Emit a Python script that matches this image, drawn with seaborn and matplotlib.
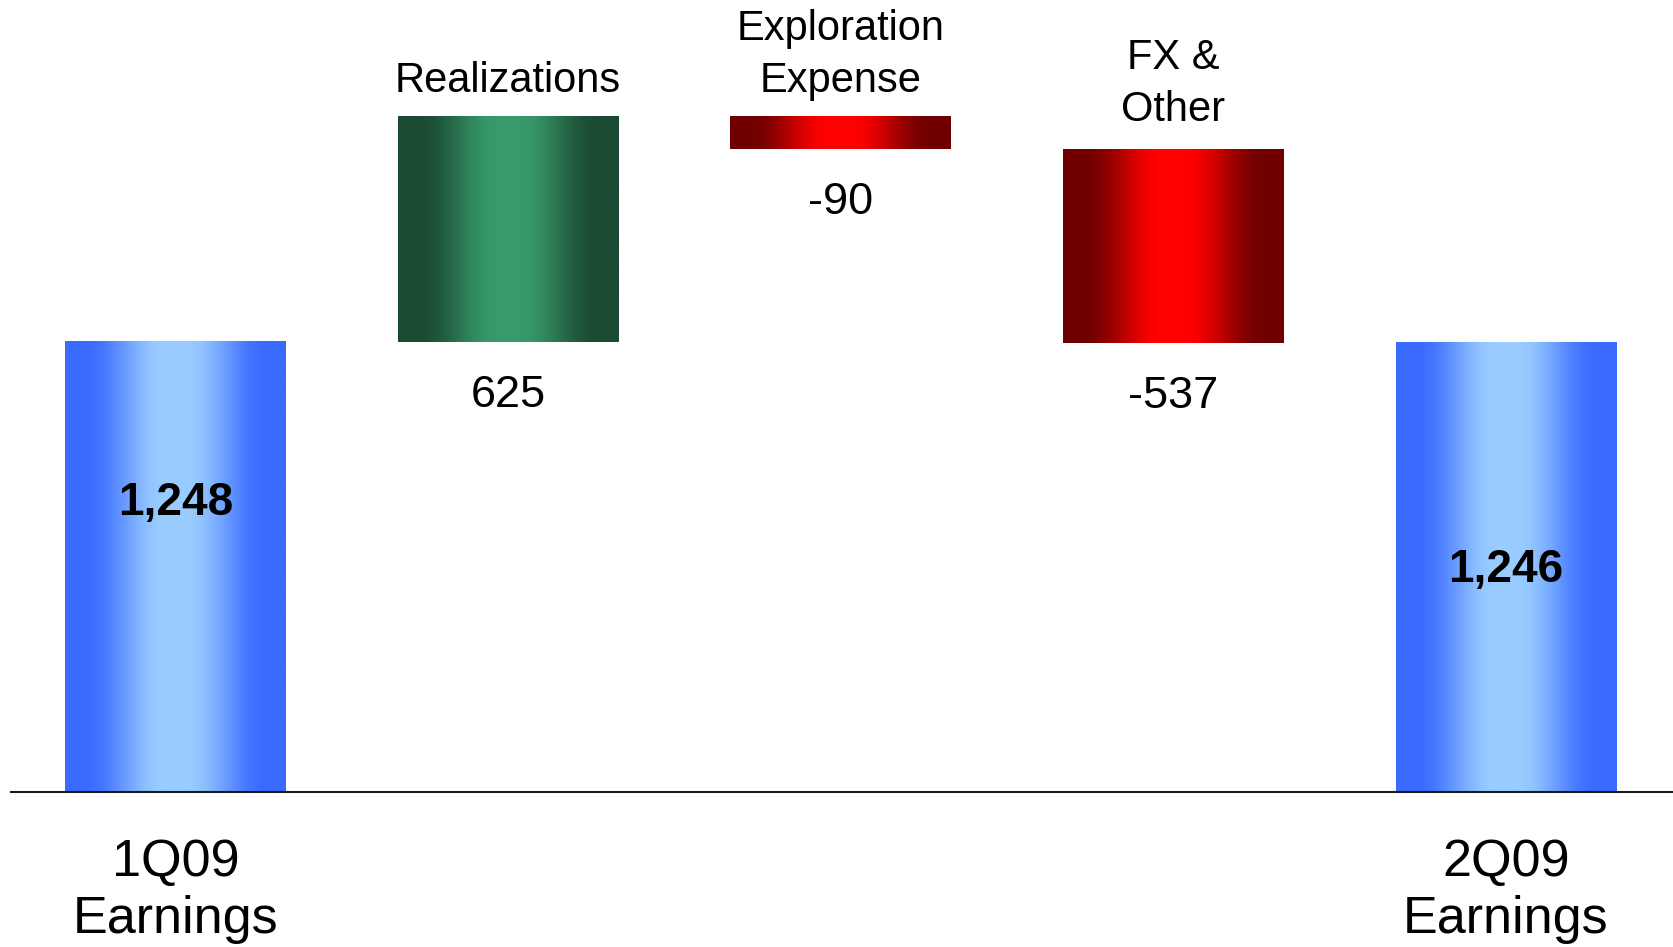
import numpy as np
import pandas as pd
import matplotlib
matplotlib.use("Agg")
import matplotlib.pyplot as plt
import seaborn as sns
from matplotlib.colors import to_rgb

# ---- data ----
categories = ["1Q09\nEarnings", "Realizations", "Exploration\nExpense", "FX &\nOther", "2Q09\nEarnings"]
values = [1248, 625, -90, -537, 1246]
kinds = ["total", "delta", "delta", "delta", "total"]
value_labels = ["1,248", "625", "-90", "-537", "1,246"]
tick_labels = ["1Q09\nEarnings", "", "", "", "2Q09\nEarnings"]
top_labels = ["", "Realizations", "Exploration\nExpense", "FX &\nOther", ""]

# ---- waterfall geometry from data ----
bottoms, heights = [], []
running = 0
for v, k in zip(values, kinds):
    if k == "total":
        bottoms.append(0)
        heights.append(v)
        running = v
    else:
        lo = min(running, running + v)
        bottoms.append(lo)
        heights.append(abs(v))
        running += v
tops = [b + h for b, h in zip(bottoms, heights)]

# gradient colours (edge, centre)
grad = {
    "total": ("#3A6BFF", "#99CCFF"),
    "up": ("#1B4A33", "#379A6A"),
    "down": ("#700000", "#FF0000"),
}
def kind_of(v, k):
    if k == "total":
        return "total"
    return "up" if v > 0 else "down"
bar_kinds = [kind_of(v, k) for v, k in zip(values, kinds)]

sns.set_theme(style="white")
plt.rcParams["font.family"] = ["Liberation Sans", "DejaVu Sans"]

W, H = 1673, 947
fig = plt.figure(figsize=(W / 100, H / 100), dpi=100)
ax = fig.add_axes([11 / W, (H - 792) / H, (W - 11) / W, 792 / H])

df = pd.DataFrame({"cat": categories, "top": tops})
palette = {c: grad[k][0] for c, k in zip(categories, bar_kinds)}
sns.barplot(data=df, x="cat", y="top", hue="cat", palette=palette, dodge=False,
            width=0.664, legend=False, ax=ax, saturation=1)

patches = sorted(ax.patches, key=lambda p: p.get_x())

def gradient_image(edge, center, n=400):
    t = np.linspace(0, 1, n)
    d = np.abs(t - 0.5) * 2
    f = np.clip((d - 0.1) / 0.72, 0, 1)
    f = f * f * (3 - 2 * f)
    e = np.array(to_rgb(edge)); c = np.array(to_rgb(center))
    img = c[None, :] * (1 - f[:, None]) + e[None, :] * f[:, None]
    return img[None, :, :]

for p, b, h, k in zip(patches, bottoms, heights, bar_kinds):
    p.set_y(b)
    p.set_height(h)
    p.set_linewidth(0)
    x0 = p.get_x(); x1 = x0 + p.get_width()
    ax.imshow(gradient_image(*grad[k]), extent=(x0, x1, b, b + h), aspect="auto",
              interpolation="bilinear", zorder=3)

# labels
top_offsets = [0, 11, 11, 14, 0]
total_fracs = [0.642, 0, 0, 0, 0.493]
for i, (p, b, t, k) in enumerate(zip(patches, bottoms, tops, kinds)):
    xc = p.get_x() + p.get_width() / 2
    if k == "total":
        ax.text(xc, b + (t - b) * total_fracs[i], value_labels[i], ha="center", va="center",
                fontsize=33, fontweight="bold", color="black", zorder=5)
    else:
        ax.annotate(value_labels[i], (xc, b), xytext=(0, -24), textcoords="offset points",
                    ha="center", va="top", fontsize=32.5, color="black")
        ax.annotate(top_labels[i], (xc, t), xytext=(0, top_offsets[i]), textcoords="offset points",
                    ha="center", va="bottom", fontsize=30, color="black", linespacing=1.38)

ax.set_xlim(-0.4946, 4.502)
ax.set_ylim(0, 2196)
ax.set_xticks(range(len(categories)))
ax.set_xticklabels(tick_labels, fontsize=37.5, color="black")
for lab in ax.get_xticklabels():
    lab.set_linespacing(1.22)
ax.tick_params(axis="x", length=0, pad=33, labelcolor="black")
ax.set_yticks([])
ax.set_xlabel("")
ax.set_ylabel("")
for s in ["top", "left", "right"]:
    ax.spines[s].set_visible(False)
ax.spines["bottom"].set_color("#1a1a1a")
ax.spines["bottom"].set_linewidth(1.5)
ax.spines["bottom"].set_zorder(4)

fig.savefig("out.png", dpi=100, facecolor="white")
